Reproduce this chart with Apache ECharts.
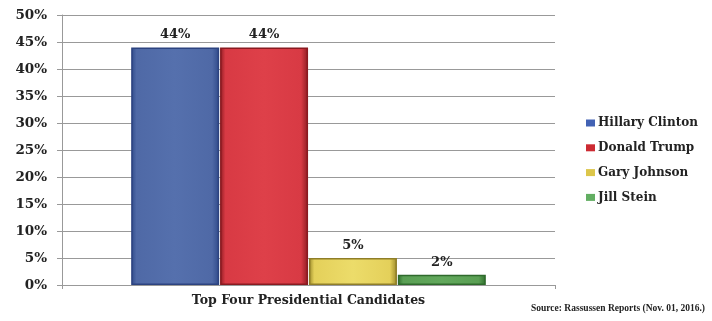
<!DOCTYPE html>
<html><head><meta charset="utf-8">
<script src="https://cdn.jsdelivr.net/npm/echarts@6/dist/echarts.min.js"></script>
<style>html,body{margin:0;padding:0;background:#fff}#c{width:712px;height:321px}</style>
</head><body><div id="c"></div>
<script>
const categories = ['Top Four Presidential Candidates'];
const seriesNames = ['Hillary Clinton', 'Donald Trump', 'Gary Johnson', 'Jill Stein'];
const hillary = [44];
const trump = [44];
const johnson = [5];
const stein = [1.9];
const steinLabel = ['2%'];
const sourceText = 'Source: Rassussen Reports (Nov. 01, 2016.)';

const font = 'DejaVu Serif';
function grad(light, mid, dark) {
  return new echarts.graphic.LinearGradient(0, 0, 1, 0, [
    {offset: 0, color: dark}, {offset: 0.06, color: mid}, {offset: 0.5, color: light},
    {offset: 0.92, color: mid}, {offset: 1, color: dark}
  ]);
}
const styles = [
  {color: grad('#5570ad', '#4f69a6', '#2f4a8a'), border: '#2c4380'},
  {color: grad('#de4049', '#d83a44', '#8e1c22'), border: '#8a1a20'},
  {color: grad('#ecdc6a', '#e4d05a', '#9c8a2a'), border: '#8f7e28'},
  {color: grad('#62a85c', '#5a9f54', '#2f6e2c'), border: '#2f6a2c'}
];
const legendColors = ['#4262b4', '#cc2a32', '#dcc64a', '#62ae62'];
const dataSets = [hillary, trump, johnson, stein];

const chart = echarts.init(document.getElementById('c'), null, {renderer: 'canvas'});
chart.setOption({
  animation: false,
  grid: {left: 62, right: 157, top: 15, bottom: 36, containLabel: false},
  legend: {
    orient: 'vertical', left: 581, top: 112, itemGap: 12.8,
    itemWidth: 9, itemHeight: 7, icon: 'rect',
    textStyle: {fontFamily: font, fontWeight: 'bold', fontSize: 12, color: '#222', padding: [0, 0, 0, -2]},
    data: seriesNames.map((n, i) => ({name: n, itemStyle: {color: legendColors[i], borderWidth: 0}}))
  },
  xAxis: {
    type: 'category', data: categories,
    axisLine: {lineStyle: {color: '#999', width: 1}},
    axisTick: {show: true, length: 4, lineStyle: {color: '#999'}},
    axisLabel: {fontFamily: font, fontWeight: 'bold', fontSize: 12.5, color: '#222', margin: 9}
  },
  yAxis: {
    type: 'value', min: 0, max: 50, interval: 5,
    axisLine: {show: true, lineStyle: {color: '#999'}},
    axisTick: {show: true, length: 5, lineStyle: {color: '#999'}},
    splitLine: {lineStyle: {color: '#999', width: 1}},
    axisLabel: {formatter: '{value}%', fontFamily: font, fontWeight: 'bold', fontSize: 13.5, color: '#222', margin: 15}
  },
  graphic: [{
    type: 'text', right: 7, top: 304,
    style: {text: sourceText, fontFamily: 'Liberation Serif', fontWeight: 'bold', fontSize: 9.5, fill: '#222'}
  }],
  series: seriesNames.map((n, i) => ({
    name: n, type: 'bar', data: dataSets[i],
    barWidth: 88, barGap: '1%',
    itemStyle: {color: styles[i].color, borderColor: styles[i].border, borderWidth: 1.5},
    label: {
      show: true, position: 'top', distance: 6,
      formatter: i === 3 ? steinLabel[0] : '{c}%',
      fontFamily: font, fontWeight: 'bold', fontSize: 13, color: '#222'
    }
  }))
});
</script></body></html>
